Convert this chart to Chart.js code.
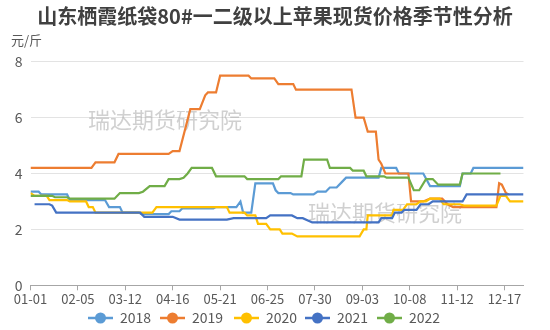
<!DOCTYPE html>
<html>
<head>
<meta charset="utf-8">
<script src="https://cdn.jsdelivr.net/npm/chart.js@4/dist/chart.umd.min.js"></script>
<style>
html,body{margin:0;padding:0;background:#fff;}
canvas{display:block;}
</style>
</head>
<body>
<canvas id="c" width="550" height="330"></canvas>
<script>
// ---- data (day of year, price 元/斤) ----
const titleText = '山东栖霞纸袋80#一二级以上苹果现货价格季节性分析';
const unitText = '元/斤';
const watermarkText = '瑞达期货研究院';
const seriesNames = ['2018', '2019', '2020', '2021', '2022'];
const seriesColors = ['#5B9BD5', '#ED7D31', '#FFC000', '#4472C4', '#70AD47'];
const yTicks = [0, 2, 4, 6, 8];
const xTickDays = [0, 35, 70, 105, 140, 175, 210, 245, 280, 315, 350];

const days2018 = [0,6,8,27,29,55,58,66,68,80,82,102,104,110,112,135,137,152,155,157,163,166,179,181,183,192,194,209,212,218,221,226,230,233,257,259,270,272,290,295,317,319,325,327,364];
const vals2018 = [3.35,3.35,3.25,3.25,3.05,3.05,2.8,2.8,2.6,2.6,2.55,2.55,2.65,2.65,2.75,2.75,2.8,2.8,3.0,2.6,2.6,3.65,3.65,3.4,3.3,3.3,3.25,3.25,3.35,3.35,3.5,3.5,3.7,3.85,3.85,4.2,4.2,4.0,4.0,3.55,3.55,4.0,4.0,4.2,4.2];

const days2019 = [0,45,48,62,65,102,105,110,118,125,129,131,137,140,161,163,180,183,194,196,237,240,246,249,255,257,259,262,279,281,290,295,304,308,312,344,346,348,351,353];
const vals2019 = [4.2,4.2,4.4,4.4,4.7,4.7,4.8,4.8,6.3,6.3,6.8,6.9,6.9,7.5,7.5,7.4,7.4,7.2,7.2,7.0,7.0,6.0,6.0,5.5,5.5,4.5,4.35,4.0,4.0,3.0,3.0,3.1,3.1,2.9,2.8,2.8,3.65,3.6,3.3,3.25];

const days2020 = [0,3,12,14,27,29,41,43,46,48,81,90,93,145,147,158,160,166,168,174,177,184,186,193,197,243,246,248,249,267,268,275,278,285,288,292,295,302,305,317,320,344,347,351,354,364];
const vals2020 = [3.3,3.2,3.2,3.05,3.05,3.0,3.0,2.8,2.8,2.6,2.6,2.6,2.8,2.8,2.6,2.6,2.5,2.5,2.2,2.2,2.0,2.0,1.85,1.85,1.75,1.75,2.0,2.0,2.5,2.5,2.7,2.7,2.9,2.9,3.0,3.0,3.1,3.1,2.9,2.9,2.85,2.85,3.2,3.2,3.0,3.0];

const days2021 = [3,14,16,19,81,84,105,110,145,150,174,177,193,197,201,208,257,259,267,269,274,276,285,288,294,297,319,322,364];
const vals2021 = [2.9,2.9,2.85,2.6,2.6,2.45,2.45,2.35,2.35,2.4,2.4,2.5,2.5,2.4,2.4,2.25,2.25,2.4,2.4,2.6,2.6,2.7,2.7,2.9,2.9,3.0,3.0,3.25,3.25];

const days2022 = [0,16,18,27,29,62,66,80,83,88,99,102,110,113,116,119,134,137,158,160,183,185,200,202,219,221,236,238,246,248,261,263,279,283,287,292,297,301,317,319,347];
const vals2022 = [3.2,3.2,3.15,3.15,3.1,3.1,3.3,3.3,3.35,3.55,3.55,3.8,3.8,3.85,4.0,4.2,4.2,3.9,3.9,3.8,3.8,3.9,3.9,4.5,4.5,4.2,4.2,4.1,4.1,3.9,3.9,3.85,3.85,3.4,3.4,3.8,3.8,3.6,3.6,4.0,4.0];

const allDays = [days2018, days2019, days2020, days2021, days2022];
const allVals = [vals2018, vals2019, vals2020, vals2021, vals2022];

function dayLabel(d) {
  const dt = new Date(Date.UTC(2019, 0, 1 + d));
  const m = String(dt.getUTCMonth() + 1).padStart(2, '0');
  const dd = String(dt.getUTCDate()).padStart(2, '0');
  return m + '-' + dd;
}

const FONT = '"Noto Sans CJK SC", "Noto Sans", sans-serif';

const datasets = seriesNames.map((name, i) => ({
  label: name,
  data: allDays[i].map((d, k) => ({x: d, y: allVals[i][k]})),
  borderColor: seriesColors[i],
  backgroundColor: seriesColors[i],
  borderWidth: 2.2,
  pointRadius: 0,
  tension: 0,
  fill: false,
  order: seriesNames.length - i
}));

const decor = {
  id: 'decor',
  beforeDatasetsDraw(chart) {
    const ctx = chart.ctx;
    ctx.save();
    ctx.font = '22px ' + FONT;
    ctx.fillStyle = 'rgba(170,170,170,0.55)';
    ctx.textAlign = 'center';
    ctx.textBaseline = 'middle';
    ctx.fillText(watermarkText, 165, 120);
    ctx.fillText(watermarkText, 385, 213);
    ctx.restore();
  },
  afterDraw(chart) {
    const ctx = chart.ctx;
    ctx.save();
    ctx.fillStyle = '#404040';
    ctx.font = 'bold 20px ' + FONT;
    ctx.textAlign = 'center';
    ctx.textBaseline = 'middle';
    ctx.fillText(titleText, 275, 16);
    ctx.fillStyle = '#595959';
    ctx.font = '13px ' + FONT;
    ctx.textAlign = 'left';
    ctx.fillText(unitText, 11, 40);
    // legend
    const items = chart.data.datasets;
    const startX = [88, 160, 234, 305, 377];
    ctx.font = '14px ' + FONT;
    items.forEach((ds, i) => {
      const x = startX[i], y = 318;
      ctx.strokeStyle = ds.borderColor;
      ctx.lineWidth = 2.5;
      ctx.beginPath();
      ctx.moveTo(x, y);
      ctx.lineTo(x + 25, y);
      ctx.stroke();
      ctx.fillStyle = ds.borderColor;
      ctx.beginPath();
      ctx.arc(x + 12.5, y, 5.5, 0, Math.PI * 2);
      ctx.fill();
      ctx.fillStyle = '#595959';
      ctx.textAlign = 'left';
      ctx.textBaseline = 'middle';
      ctx.fillText(ds.label, x + 32, y);
    });
    ctx.restore();
  }
};

new Chart(document.getElementById('c'), {
  type: 'line',
  data: {datasets},
  options: {
    responsive: false,
    animation: false,
    devicePixelRatio: 1,
    layout: {padding: {left: 0, right: 26.5, top: 61.7, bottom: 0}},
    plugins: {legend: {display: false}, title: {display: false}, tooltip: {enabled: false}},
    scales: {
      x: {
        type: 'linear',
        min: 0,
        max: 364,
        afterFit(s) { s.height = 44.7; },
        afterBuildTicks(s) { s.ticks = xTickDays.map(v => ({value: v})); },
        ticks: {
          autoSkip: false,
          maxRotation: 0,
          padding: 1,
          color: '#595959',
          font: {size: 13, family: FONT},
          callback: (v) => dayLabel(v)
        },
        grid: {display: true, drawOnChartArea: false, drawTicks: true, tickLength: 5, color: '#a6a6a6'},
        border: {display: true, color: '#a6a6a6', width: 1}
      },
      y: {
        min: 0,
        max: 8,
        afterFit(s) { s.width = 30.5; },
        afterBuildTicks(s) { s.ticks = yTicks.map(v => ({value: v})); },
        ticks: {
          padding: 8,
          color: '#595959',
          font: {size: 14, family: FONT}
        },
        grid: {color: '#e3e3e3', drawTicks: false, lineWidth: 1},
        border: {display: false}
      }
    }
  },
  plugins: [decor]
});
</script>
</body>
</html>
